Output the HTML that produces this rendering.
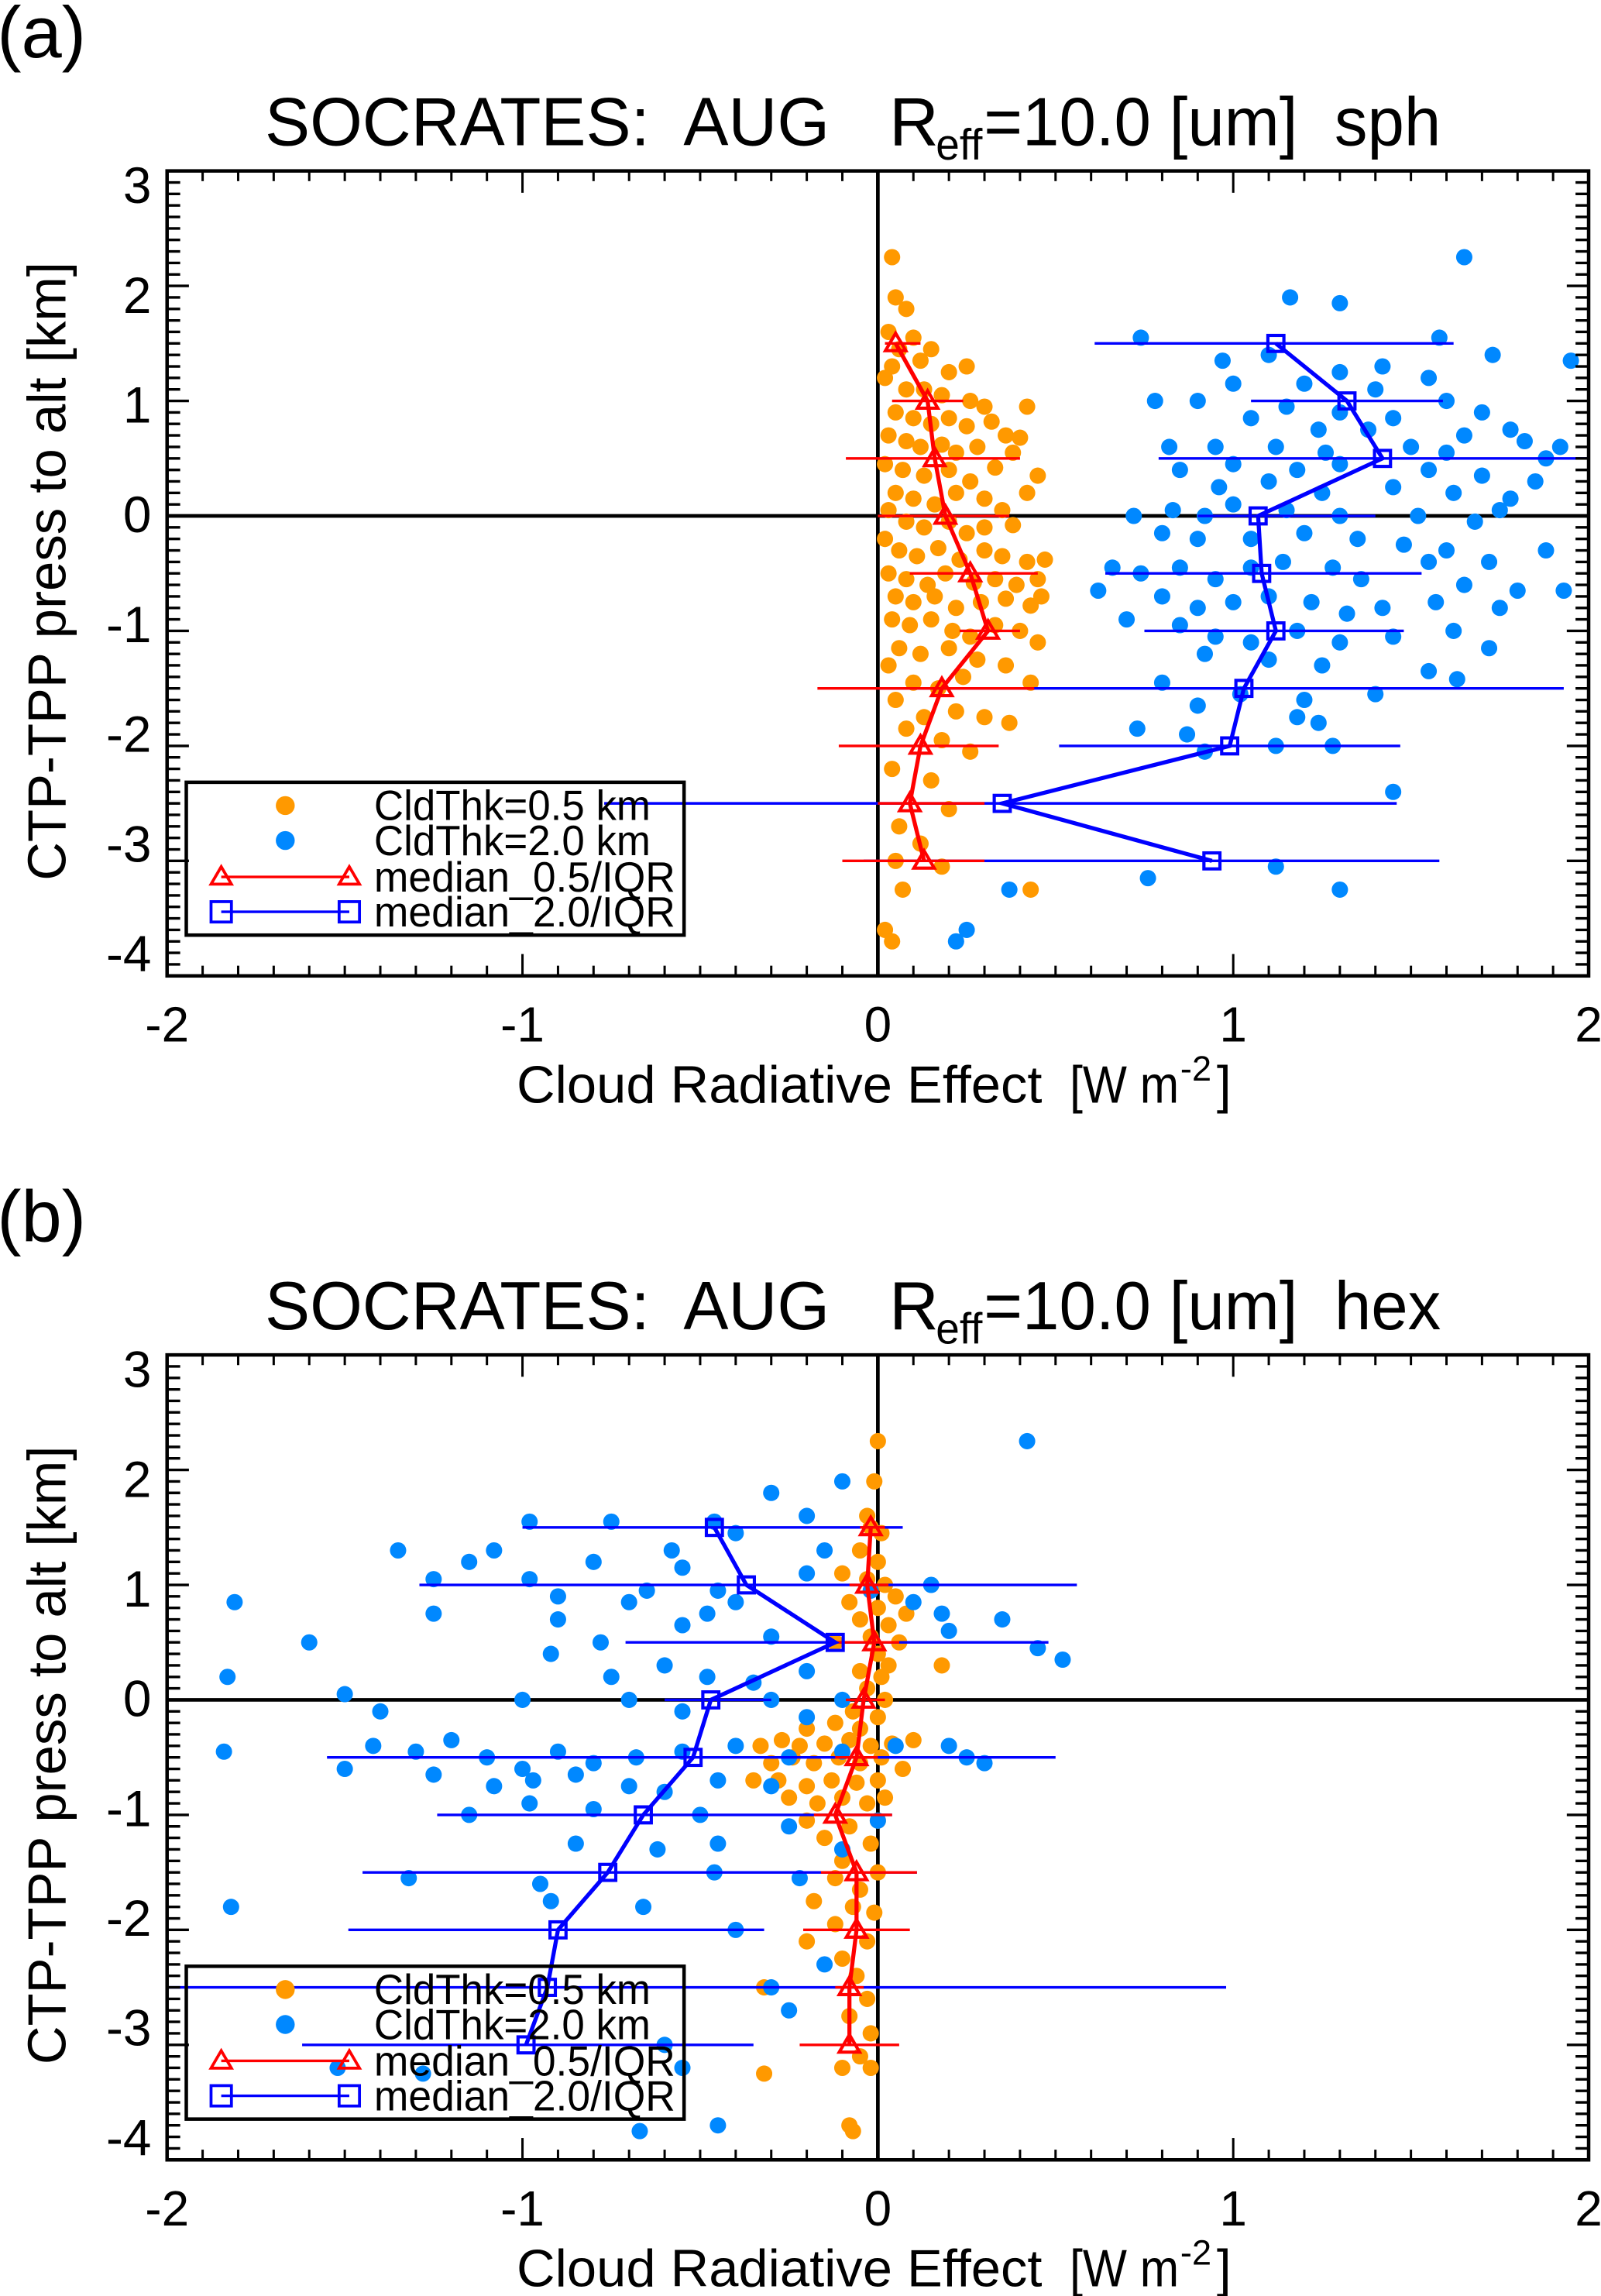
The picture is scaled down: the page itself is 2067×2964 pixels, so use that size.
<!DOCTYPE html>
<html><head><meta charset="utf-8"><style>
html,body{margin:0;padding:0;background:#fff}
svg{display:block}
text{font-family:"Liberation Sans",sans-serif;white-space:pre}
</style></head><body>
<svg id="fig" width="2067" height="2964" viewBox="0 0 1100 1577.3" xmlns="http://www.w3.org/2000/svg"></svg>
<script>
const yLevels=[1.5,1.0,0.5,0,-0.5,-1,-1.5,-2,-2.5,-3];
const xTicks=[-2,-1,0,1,2];
const yTicks=[3,2,1,0,-1,-2,-3,-4];
// panel a
const aRedMed=[0.05,0.14,0.16,0.19,0.26,0.31,0.18,0.12,0.09,0.13];
const aRedLo=[0.02,0.04,-0.09,0.0,0.09,0.23,-0.17,-0.11,0.0,-0.10];
const aRedHi=[0.12,0.24,0.40,0.37,0.45,0.40,0.44,0.34,0.30,0.30];
const aBlueMed=[1.12,1.32,1.42,1.07,1.08,1.12,1.03,0.99,0.35,0.94];
const aBlueLo=[0.61,1.05,0.79,0.9,0.64,0.75,0.0,0.51,-0.77,-0.04];
const aBlueHi=[1.62,1.59,2.0,1.4,1.53,1.48,1.93,1.47,1.46,1.58];
const aOrange=[[0.04,2.25],[0.05,1.9],[0.08,1.8],[0.03,1.6],[0.1,1.55],[0.06,1.45],[0.12,1.35],[0.04,1.3],[0.15,1.45],[0.2,1.25],[0.25,1.3],[0.02,1.2],[0.08,1.1],[0.13,1.1],[0.18,1.05],[0.26,1.0],[0.3,0.95],[0.42,0.95],[0.05,0.9],[0.1,0.85],[0.15,0.8],[0.2,0.85],[0.25,0.78],[0.32,0.82],[0.36,0.7],[0.4,0.68],[0.03,0.7],[0.08,0.65],[0.12,0.6],[0.18,0.62],[0.22,0.55],[0.28,0.6],[0.38,0.55],[0.45,0.35],[0.02,0.45],[0.07,0.4],[0.13,0.35],[0.2,0.4],[0.26,0.3],[0.33,0.42],[0.05,0.2],[0.1,0.15],[0.16,0.1],[0.22,0.2],[0.3,0.15],[0.35,0.05],[0.42,0.2],[0.03,0.05],[0.08,-0.05],[0.13,-0.1],[0.2,-0.05],[0.25,-0.15],[0.3,-0.1],[0.38,-0.08],[0.02,-0.2],[0.06,-0.3],[0.11,-0.35],[0.17,-0.28],[0.23,-0.38],[0.3,-0.3],[0.35,-0.35],[0.42,-0.4],[0.47,-0.38],[0.03,-0.5],[0.08,-0.55],[0.14,-0.6],[0.19,-0.5],[0.27,-0.58],[0.33,-0.55],[0.39,-0.6],[0.45,-0.55],[0.05,-0.7],[0.1,-0.75],[0.16,-0.7],[0.22,-0.8],[0.29,-0.75],[0.36,-0.72],[0.43,-0.78],[0.46,-0.7],[0.04,-0.9],[0.09,-0.95],[0.15,-0.9],[0.21,-1.0],[0.26,-1.05],[0.33,-0.95],[0.4,-1.0],[0.45,-1.1],[0.06,-1.15],[0.12,-1.2],[0.2,-1.15],[0.28,-1.25],[0.36,-1.3],[0.03,-1.3],[0.1,-1.45],[0.17,-1.5],[0.24,-1.4],[0.43,-1.45],[0.05,-1.6],[0.13,-1.75],[0.22,-1.7],[0.3,-1.75],[0.37,-1.8],[0.08,-1.85],[0.18,-1.95],[0.26,-2.05],[0.04,-2.2],[0.15,-2.3],[0.06,-2.7],[0.2,-2.55],[0.12,-2.85],[0.05,-3.0],[0.18,-3.05],[0.07,-3.25],[0.43,-3.25],[0.02,-3.6],[0.04,-3.7]];
const aBlue=[[1.65,2.25],[1.16,1.9],[1.3,1.85],[0.74,1.55],[1.58,1.55],[1.1,1.4],[1.3,1.25],[1.42,1.3],[1.95,1.35],[1.73,1.4],[0.97,1.35],[1.55,1.2],[1.0,1.15],[1.2,1.15],[1.4,1.1],[1.6,1.0],[0.78,1.0],[0.9,1.0],[1.15,0.95],[1.3,0.9],[1.45,0.85],[1.7,0.9],[1.78,0.75],[1.05,0.85],[1.24,0.75],[1.38,0.75],[1.65,0.7],[1.82,0.65],[1.92,0.6],[0.82,0.6],[0.95,0.6],[1.12,0.6],[1.26,0.55],[1.5,0.6],[1.6,0.55],[1.88,0.5],[0.85,0.4],[1.0,0.45],[1.18,0.4],[1.3,0.45],[1.55,0.4],[1.7,0.35],[1.85,0.3],[0.96,0.25],[1.1,0.3],[1.25,0.2],[1.45,0.25],[1.62,0.2],[1.78,0.15],[0.72,0.0],[0.83,0.05],[0.92,0.0],[1.0,0.1],[1.15,0.05],[1.3,0.0],[1.52,0.0],[1.68,-0.05],[1.75,0.05],[0.8,-0.15],[0.9,-0.2],[1.05,-0.2],[1.2,-0.15],[1.35,-0.2],[1.48,-0.25],[1.6,-0.3],[1.72,-0.4],[1.88,-0.3],[0.66,-0.45],[0.74,-0.5],[0.85,-0.45],[0.95,-0.55],[1.05,-0.45],[1.14,-0.4],[1.28,-0.45],[1.36,-0.55],[1.55,-0.4],[1.65,-0.6],[1.8,-0.65],[1.93,-0.65],[0.62,-0.65],[0.8,-0.7],[0.9,-0.8],[1.0,-0.75],[1.1,-0.7],[1.22,-0.75],[1.32,-0.85],[1.42,-0.8],[1.57,-0.75],[1.75,-0.8],[0.7,-0.9],[0.85,-0.95],[0.95,-1.05],[1.05,-1.1],[1.18,-1.0],[1.3,-1.1],[1.45,-1.05],[1.62,-1.0],[1.72,-1.15],[0.92,-1.2],[1.1,-1.25],[1.25,-1.3],[1.55,-1.35],[1.63,-1.42],[0.8,-1.45],[1.02,-1.55],[1.2,-1.6],[1.4,-1.55],[0.9,-1.65],[0.73,-1.85],[0.87,-1.9],[1.18,-1.75],[1.24,-1.8],[0.92,-2.05],[1.12,-2.0],[1.28,-2.0],[1.45,-2.4],[0.76,-3.15],[1.12,-3.05],[0.37,-3.25],[1.3,-3.25],[0.25,-3.6],[0.22,-3.7]];
// panel b
const bRedMed=[-0.02,-0.03,-0.01,-0.04,-0.06,-0.12,-0.06,-0.06,-0.08,-0.08];
const bRedLo=[-0.05,-0.08,-0.13,-0.09,-0.12,-0.18,-0.16,-0.21,-0.12,-0.22];
const bRedHi=[0.02,0.03,0.06,0.02,0.0,0.04,0.11,0.09,-0.04,0.06];
const bBlueMed=[-0.46,-0.37,-0.12,-0.47,-0.52,-0.66,-0.76,-0.90,-0.93,-0.99];
const bBlueLo=[-1.0,-1.29,-0.71,-0.6,-1.55,-1.24,-1.45,-1.49,-2.0,-1.62];
const bBlueHi=[0.07,0.56,0.48,-0.3,0.50,0.04,0.11,-0.32,0.98,-0.35];
const bOrange=[[0.0,2.25],[-0.01,1.9],[-0.03,1.6],[-0.02,1.5],[0.01,1.45],[-0.05,1.3],[0.0,1.2],[-0.1,1.1],[-0.03,1.05],[0.02,1.0],[0.05,0.9],[-0.08,0.85],[0.0,0.8],[0.08,0.75],[-0.05,0.7],[0.03,0.65],[-0.02,0.55],[0.06,0.5],[-0.12,0.5],[0.0,0.4],[0.03,0.3],[-0.05,0.25],[0.18,0.3],[0.01,0.2],[-0.03,0.1],[0.02,0.0],[-0.07,-0.1],[0.0,-0.15],[-0.12,-0.2],[-0.05,-0.25],[-0.2,-0.25],[-0.33,-0.4],[-0.27,-0.35],[-0.22,-0.4],[-0.15,-0.38],[-0.08,-0.35],[-0.02,-0.4],[0.04,-0.38],[0.1,-0.35],[-0.3,-0.55],[-0.24,-0.5],[-0.18,-0.55],[-0.11,-0.5],[-0.05,-0.55],[0.01,-0.5],[0.07,-0.6],[-0.35,-0.7],[-0.28,-0.7],[-0.2,-0.75],[-0.13,-0.7],[-0.06,-0.72],[0.0,-0.7],[-0.25,-0.85],[-0.17,-0.9],[-0.1,-0.85],[-0.03,-0.9],[0.02,-0.85],[-0.2,-1.05],[-0.08,-1.1],[0.0,-1.05],[-0.15,-1.2],[-0.02,-1.25],[-0.1,-1.4],[0.0,-1.5],[-0.12,-1.55],[-0.05,-1.65],[-0.18,-1.75],[-0.07,-1.8],[-0.01,-1.85],[-0.12,-1.95],[-0.2,-2.1],[-0.03,-2.1],[-0.1,-2.25],[-0.06,-2.4],[-0.03,-2.6],[-0.32,-2.5],[-0.08,-2.75],[-0.02,-2.9],[-0.1,-3.2],[-0.32,-3.25],[-0.05,-3.1],[-0.08,-3.7],[-0.07,-3.75],[-0.02,-3.2]];
const bBlue=[[0.42,2.25],[-0.1,1.9],[-0.3,1.8],[-0.98,1.55],[-0.75,1.55],[-0.46,1.55],[-0.2,1.6],[-0.4,1.45],[-1.35,1.3],[-1.08,1.3],[-0.58,1.3],[-0.15,1.3],[-1.15,1.2],[-0.8,1.2],[-0.55,1.15],[-0.2,1.1],[0.15,1.0],[-1.25,1.05],[-0.98,1.05],[-0.65,0.95],[-0.45,0.95],[-0.02,0.95],[-1.81,0.85],[-0.9,0.9],[-0.7,0.85],[-0.4,0.85],[0.1,0.85],[-1.25,0.75],[-0.9,0.7],[-0.48,0.75],[0.18,0.75],[0.35,0.7],[-0.55,0.65],[-1.6,0.5],[-0.78,0.5],[-0.3,0.55],[0.2,0.6],[0.45,0.45],[-0.92,0.4],[-0.6,0.3],[-0.48,0.2],[-0.2,0.25],[0.52,0.35],[-1.83,0.2],[-0.75,0.2],[-0.35,0.15],[-1.5,0.05],[-1.0,0.0],[-0.7,0.0],[-0.3,0.0],[-0.1,0.0],[-1.4,-0.1],[-0.55,-0.1],[-0.2,-0.15],[-1.84,-0.45],[-1.42,-0.4],[-1.3,-0.45],[-1.2,-0.35],[-1.1,-0.5],[-1.0,-0.6],[-0.9,-0.45],[-0.8,-0.55],[-0.68,-0.5],[-0.55,-0.45],[-0.4,-0.4],[-0.25,-0.5],[-0.1,-0.45],[0.05,-0.4],[0.2,-0.4],[0.25,-0.5],[-1.5,-0.6],[-1.25,-0.65],[-1.08,-0.75],[-0.97,-0.7],[-0.85,-0.65],[-0.7,-0.75],[-0.6,-0.8],[-0.45,-0.7],[-0.3,-0.75],[0.3,-0.55],[-1.15,-1.0],[-0.98,-0.9],[-0.8,-0.95],[-0.5,-1.0],[-0.25,-1.1],[0.0,-1.05],[-0.85,-1.25],[-0.62,-1.3],[-0.45,-1.25],[-0.1,-1.3],[-1.32,-1.55],[-0.95,-1.6],[-0.66,-1.8],[-0.46,-1.5],[-0.22,-1.55],[-1.82,-1.8],[-0.92,-1.75],[-0.4,-2.0],[-0.15,-2.3],[-0.3,-2.5],[-0.25,-2.7],[-0.6,-3.0],[-0.55,-3.2],[-1.52,-3.2],[-1.28,-3.25],[-0.45,-3.7],[-0.67,-3.75]];

const NS="http://www.w3.org/2000/svg";
const svg=document.getElementById('fig');
function mk(tag,attrs,parent){const e=document.createElementNS(NS,tag);for(const k in attrs)e.setAttribute(k,attrs[k]);(parent||svg).appendChild(e);return e;}
const ORANGE="#ff9900",BLUE="#0088ff";

function panel(id,label,shape,top,red,redLo,redHi,blue,blueLo,blueHi,orangePts,bluePts){
  const g=mk('g',{});
  
  
  const L=114.8,R=1091.5,T=top,B=top+553;
  const sx=v=>L+(v+2)/4*(R-L);
  const sy=v=>T+(3-v)/7*(B-T);
  const lab=mk('text',{x:-2,y:top-78,'font-size':50},g);lab.textContent=label;
  
  
  const tg=mk('g',{},g);
  
  
  const by=top-17.7;
  const t1=mk('text',{x:182,y:by,'font-size':47,textLength:388,lengthAdjust:'spacingAndGlyphs'},tg);t1.textContent='SOCRATES:  AUG';
  const t1b=mk('text',{x:611,y:by,'font-size':47},tg);t1b.textContent='R';
  const t2=mk('text',{x:643,y:by+10,'font-size':30,textLength:32,lengthAdjust:'spacingAndGlyphs'},tg);t2.textContent='eff';
  const t3=mk('text',{x:676,y:by,'font-size':47,textLength:314,lengthAdjust:'spacingAndGlyphs'},tg);t3.textContent='=10.0 [um]  '+shape;
  const cp=mk('clipPath',{id:'clip'+id},g);mk('rect',{x:L,y:T,width:R-L,height:B-T},cp);
  const plot=mk('g',{'clip-path':'url(#clip'+id+')'},g);
  mk('line',{x1:sx(0),x2:sx(0),y1:T,y2:B,stroke:'#000','stroke-width':2.5},plot);
  mk('line',{x1:L,x2:R,y1:sy(0),y2:sy(0),stroke:'#000','stroke-width':2.5},plot);
  orangePts.forEach(p=>{const c=mk('circle',{cx:sx(p[0]),cy:sy(p[1]),r:5.6,fill:ORANGE},plot);
    
    });
  bluePts.forEach(p=>{const c=mk('circle',{cx:sx(p[0]),cy:sy(p[1]),r:5.6,fill:BLUE},plot);
    
    });
  yLevels.forEach((y,i)=>{
    const l=mk('line',{x1:sx(blueLo[i]),x2:sx(blueHi[i]),y1:sy(y),y2:sy(y),stroke:'#0000ff','stroke-width':1.8},plot);
    
    
    const r=mk('line',{x1:sx(redLo[i]),x2:sx(redHi[i]),y1:sy(y),y2:sy(y),stroke:'#ff0000','stroke-width':1.8},plot);
    
    
  });
  const bl=mk('polyline',{points:yLevels.map((y,i)=>sx(blue[i])+','+sy(y)).join(' '),fill:'none',stroke:'#0000ff','stroke-width':2.8},plot);
  
  
  const rl=mk('polyline',{points:yLevels.map((y,i)=>sx(red[i])+','+sy(y)).join(' '),fill:'none',stroke:'#ff0000','stroke-width':2.8},plot);
  
  
  yLevels.forEach((y,i)=>{
    const s=mk('rect',{x:sx(blue[i])-5.5,y:sy(y)-5.5,width:11,height:11,fill:'none',stroke:'#0000ff','stroke-width':2.2},plot);
    
    
    const x=sx(red[i]),yy=sy(y);
    const t=mk('polygon',{points:`${x},${yy-7} ${x-7},${yy+5} ${x+7},${yy+5}`,fill:'none',stroke:'#ff0000','stroke-width':2.2},plot);
    
    
  });
  mk('rect',{x:L,y:T,width:R-L,height:B-T,fill:'none',stroke:'#000','stroke-width':2.4},g);
  for(let k=-40;k<=30;k++){const v=k/10;const y=sy(v);const major=k%10===0;
    const len=major?15:9;
    mk('line',{x1:L,x2:L+len,y1:y,y2:y,stroke:'#000','stroke-width':1.8},g);
    mk('line',{x1:R,x2:R-len,y1:y,y2:y,stroke:'#000','stroke-width':1.8},g);}
  for(let k=-20;k<=20;k++){const v=k/10;const x=sx(v);const major=k%10===0;
    const len=major?15:7;
    mk('line',{x1:x,x2:x,y1:B,y2:B-len,stroke:'#000','stroke-width':1.6},g);
    mk('line',{x1:x,x2:x,y1:T,y2:T+len,stroke:'#000','stroke-width':1.6},g);}
  xTicks.forEach(v=>{const t=mk('text',{x:sx(v),y:B+45,'font-size':34,'text-anchor':'middle'},g);t.textContent=String(v);
    
    });
  yTicks.forEach(v=>{const t=mk('text',{x:104,y:T+9.6+(3-v)*75.4+12.5,'font-size':35,'text-anchor':'end'},g);t.textContent=String(v);
    
    });
  const xg=mk('g',{},g);
  
  
  const x1=mk('text',{x:355,y:B+87,'font-size':36,textLength:361,lengthAdjust:'spacingAndGlyphs'},xg);x1.textContent='Cloud Radiative Effect';
  const x1b=mk('text',{x:735,y:B+87,'font-size':36,textLength:75,lengthAdjust:'spacingAndGlyphs'},xg);x1b.textContent='[W m';
  const x2=mk('text',{x:811,y:B+72,'font-size':24},xg);x2.textContent='-2';
  const x3=mk('text',{x:836,y:B+87,'font-size':36},xg);x3.textContent=']';
  const yt=mk('text',{x:0,y:0,'font-size':37,'text-anchor':'middle',textLength:425,lengthAdjust:'spacingAndGlyphs',transform:`translate(45,${top+275}) rotate(-90)`},g);
  yt.textContent='CTP-TPP press to alt [km]';
  
  
  const lg=mk('g',{},g);
  
  
  const ly=top+420;
  mk('rect',{x:128,y:ly,width:342,height:105,fill:'none',stroke:'#000','stroke-width':2.4},lg);
  const rows=[ly+16,ly+40,ly+65,ly+89];
  mk('circle',{cx:196,cy:rows[0],r:6.5,fill:ORANGE},lg);
  mk('circle',{cx:196,cy:rows[1],r:6.5,fill:BLUE},lg);
  mk('line',{x1:152,x2:240,y1:rows[2],y2:rows[2],stroke:'#ff0000','stroke-width':1.8},lg);
  [152,240].forEach(x=>mk('polygon',{points:`${x},${rows[2]-7} ${x-7},${rows[2]+5} ${x+7},${rows[2]+5}`,fill:'none',stroke:'#ff0000','stroke-width':2},lg));
  mk('line',{x1:152,x2:240,y1:rows[3],y2:rows[3],stroke:'#0000ff','stroke-width':1.8},lg);
  [152,240].forEach(x=>mk('rect',{x:x-7,y:rows[3]-7,width:14,height:14,fill:'none',stroke:'#0000ff','stroke-width':2},lg));
  ['CldThk=0.5 km','CldThk=2.0 km','median_0.5/IQR','median_2.0/IQR'].forEach((s,i)=>{
    const t=mk('text',{x:257,y:rows[i]+10,'font-size':29,textLength:(i<2?190:207),lengthAdjust:'spacingAndGlyphs'},lg);t.textContent=s;
    
    });
}
panel('a','(a)','sph',117.4,aRedMed,aRedLo,aRedHi,aBlueMed,aBlueLo,aBlueHi,aOrange,aBlue);
panel('b','(b)','hex',930.8,bRedMed,bRedLo,bRedHi,bBlueMed,bBlueLo,bBlueHi,bOrange,bBlue);
</script>
</body></html>
